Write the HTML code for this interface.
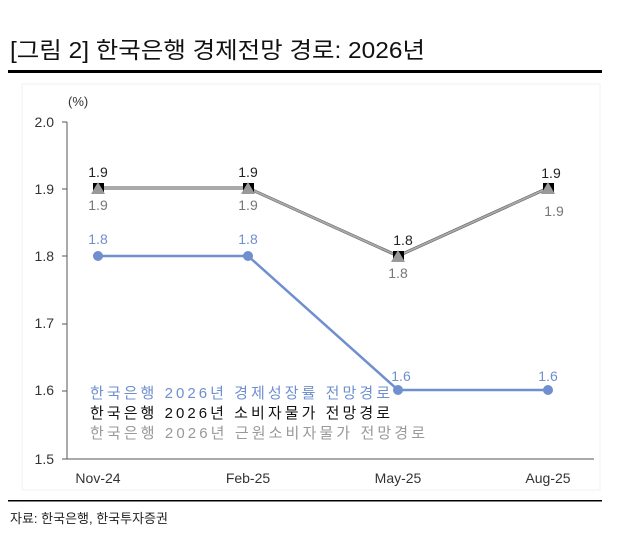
<!DOCTYPE html>
<html><head><meta charset="utf-8"><style>
body{margin:0;background:#fff;width:619px;height:551px;overflow:hidden;font-family:"Liberation Sans","Noto Sans CJK KR",sans-serif}
</style></head><body>
<svg width="619" height="551" xmlns="http://www.w3.org/2000/svg" font-family="Liberation Sans, Noto Sans CJK KR, sans-serif">
<text x="10" y="58" font-size="23" fill="#111" textLength="415" lengthAdjust="spacingAndGlyphs">[그림 2] 한국은행 경제전망 경로: 2026년</text>
<rect x="8" y="70" width="594" height="3" fill="#000"/>
<rect x="22" y="84" width="578" height="406" fill="none" stroke="#f0f0f0"/>
<text x="68" y="106" font-size="13" fill="#333">(%)</text>
<g font-size="14" fill="#333" text-anchor="end">
<text x="54" y="127">2.0</text><text x="54" y="194">1.9</text><text x="54" y="261">1.8</text>
<text x="54" y="328">1.7</text><text x="54" y="395">1.6</text><text x="54" y="464">1.5</text></g>
<g stroke="#555" stroke-width="1">
<line x1="67" y1="122" x2="67" y2="459"/><line x1="67" y1="459" x2="594" y2="459"/>
<line x1="62" y1="122" x2="67" y2="122"/><line x1="62" y1="189" x2="67" y2="189"/><line x1="62" y1="256" x2="67" y2="256"/><line x1="62" y1="324" x2="67" y2="324"/><line x1="62" y1="391" x2="67" y2="391"/><line x1="62" y1="459" x2="67" y2="459"/>
</g>
<g font-size="14" fill="#333" text-anchor="middle">
<text x="98" y="483">Nov-24</text><text x="248" y="483">Feb-25</text><text x="398" y="483">May-25</text><text x="548" y="483">Aug-25</text></g>
<polyline points="98,256 248,256 398,390 548,390" fill="none" stroke="#6f8fcf" stroke-width="2.5"/>
<g fill="#6f8fcf"><circle cx="98" cy="256" r="5"/><circle cx="248" cy="256" r="5"/><circle cx="398" cy="390" r="5"/><circle cx="548" cy="390" r="5"/></g>
<polyline points="98,188 248,188 398,256 548,188" fill="none" stroke="#555" stroke-width="3"/>
<polyline points="98,188 248,188 398,256 548,188" fill="none" stroke="#aaa" stroke-width="2"/>
<g fill="#000"><rect x="93" y="183" width="11" height="11"/><rect x="243" y="183" width="11" height="11"/><rect x="393" y="251" width="11" height="11"/><rect x="543" y="183" width="11" height="11"/></g>
<g fill="#999"><polygon points="98,182 105,194 91,194"/><polygon points="248,182 255,194 241,194"/><polygon points="398,250 405,262 391,262"/><polygon points="548,182 555,194 541,194"/></g>
<g font-size="14" text-anchor="middle">
<text x="98" y="177" fill="#222">1.9</text><text x="248" y="177" fill="#222">1.9</text><text x="403" y="245" fill="#222">1.8</text><text x="551" y="178" fill="#222">1.9</text>
<text x="98" y="210" fill="#777">1.9</text><text x="248" y="210" fill="#777">1.9</text><text x="398" y="278" fill="#777">1.8</text><text x="554" y="216" fill="#777">1.9</text>
<text x="98" y="244" fill="#6f8fcf">1.8</text><text x="248" y="244" fill="#6f8fcf">1.8</text><text x="401" y="381" fill="#6f8fcf">1.6</text><text x="548" y="381" fill="#6f8fcf">1.6</text></g>
<g font-size="15">
<text x="90" y="398" fill="#6f8fcf" textLength="300" lengthAdjust="spacing">한국은행 2026년 경제성장률 전망경로</text>
<text x="90" y="418" fill="#111" textLength="300" lengthAdjust="spacing">한국은행 2026년 소비자물가 전망경로</text>
<text x="90" y="438" fill="#999" textLength="335" lengthAdjust="spacing">한국은행 2026년 근원소비자물가 전망경로</text></g>
<rect x="8" y="500" width="594" height="1.5" fill="#000"/>
<text x="10" y="523" font-size="13" fill="#222">자료: 한국은행, 한국투자증권</text>
</svg>
</body></html>
